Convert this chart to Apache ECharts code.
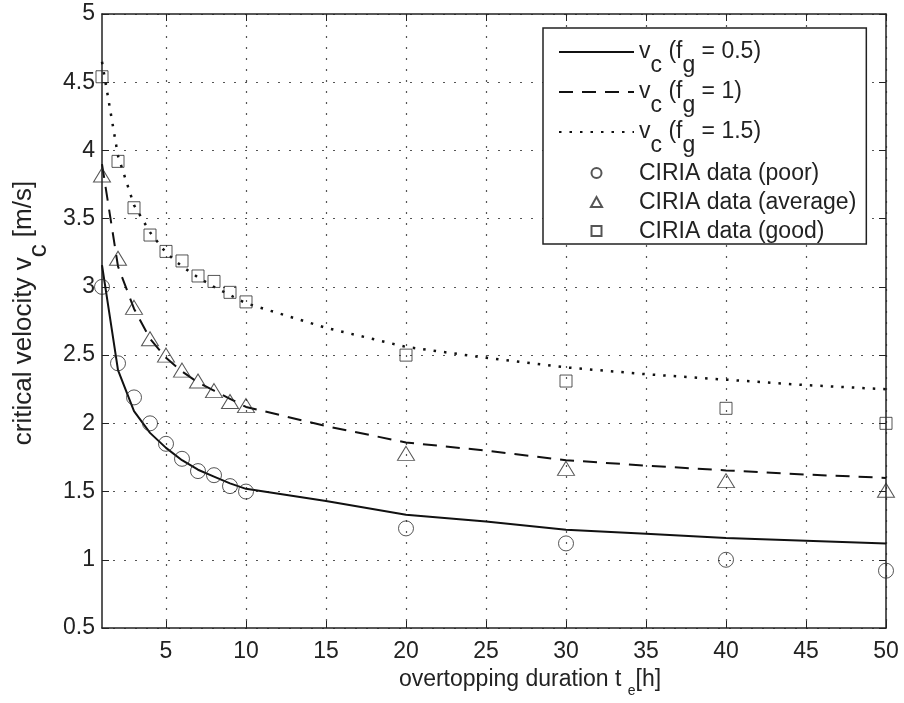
<!DOCTYPE html>
<html>
<head>
<meta charset="utf-8">
<script src="https://cdn.jsdelivr.net/npm/echarts@6/dist/echarts.min.js"></script>
<style>
  html, body { margin: 0; padding: 0; background: #fff; }
  #chart { width: 904px; height: 703px; }
</style>
</head>
<body>
<div id="chart"></div>
<script>
// CIRIA measured points
const hours = [1, 2, 3, 4, 5, 6, 7, 8, 9, 10, 20, 30, 40, 50];
const poor = [3.0, 2.44, 2.19, 2.0, 1.85, 1.74, 1.65, 1.62, 1.54, 1.5, 1.23, 1.12, 1.0, 0.92];
const average = [3.82, 3.21, 2.85, 2.62, 2.5, 2.39, 2.31, 2.24, 2.16, 2.13, 1.78, 1.67, 1.58, 1.51];
const good = [4.54, 3.92, 3.58, 3.38, 3.26, 3.19, 3.08, 3.04, 2.96, 2.89, 2.5, 2.31, 2.11, 2.0];

// critical velocity curves
const curveHours = [1, 2, 3, 4, 5, 6, 7, 8, 9, 10, 15, 20, 25, 30, 35, 40, 45, 50];
const vcFg05 = [3.16, 2.39, 2.09, 1.93, 1.82, 1.73, 1.66, 1.61, 1.56, 1.52, 1.43, 1.33, 1.28, 1.22, 1.19, 1.16, 1.14, 1.12];
const vcFg1 = [3.9, 3.15, 2.84, 2.62, 2.48, 2.38, 2.30, 2.24, 2.18, 2.12, 1.98, 1.86, 1.80, 1.73, 1.69, 1.655, 1.625, 1.60];
const vcFg15 = [4.65, 3.96, 3.6, 3.4, 3.25, 3.15, 3.07, 3.0, 2.94, 2.88, 2.70, 2.56, 2.48, 2.41, 2.36, 2.32, 2.28, 2.25];

const xTicks = [5, 10, 15, 20, 25, 30, 35, 40, 45, 50];

const legendLabels = {
  'vc05': '{m|v}{s|c}{m| (f}{s|g}{m| = 0.5)}',
  'vc1': '{m|v}{s|c}{m| (f}{s|g}{m| = 1)}',
  'vc15': '{m|v}{s|c}{m| (f}{s|g}{m| = 1.5)}',
  'poor': '{p|CIRIA data (poor)}',
  'average': '{p|CIRIA data (average)}',
  'good': '{p|CIRIA data (good)}'
};

const font = 'Liberation Sans, Arial, Helvetica, sans-serif';
const ink = '#222';

const subRich = {
  m: { fontSize: 23, fontFamily: font, color: ink, lineHeight: 24, verticalAlign: 'top' },
  s: { fontSize: 23, fontFamily: font, color: ink, lineHeight: 24, verticalAlign: 'top', padding: [14, 0, 0, 0] },
  p: { fontSize: 23, fontFamily: font, color: ink, lineHeight: 26, padding: [2, 0, 1, 0] },
  e: { fontSize: 14, fontFamily: font, color: ink, lineHeight: 16, verticalAlign: 'top', padding: [16, 0, 0, 0] },
  ym: { fontSize: 26, fontFamily: font, color: ink, lineHeight: 28, verticalAlign: 'top' },
  ys: { fontSize: 26, fontFamily: font, color: ink, lineHeight: 28, verticalAlign: 'top', padding: [15, 0, 0, 0] }
};

function pairs(xs, ys) {
  return xs.map((x, i) => [x, ys[i]]);
}

const chart = echarts.init(document.getElementById('chart'));

const markerStyle = {
  color: 'rgba(0,0,0,0)',
  borderColor: '#2a2a2a',
  borderWidth: 1
};
const noFill = { color: 'rgba(0,0,0,0)', borderWidth: 0 };

let option = {
  animation: false,
  backgroundColor: '#fff',
  textStyle: { fontFamily: font },
  grid: { left: 102, right: 18, top: 14, bottom: 73 },
  legend: {
    orient: 'vertical',
    left: 543,
    top: 28,
    padding: [12, 10, 0, 15],
    itemWidth: 75,
    itemHeight: 10,
    itemGap: 3,
    borderColor: ink,
    borderWidth: 1.5,
    backgroundColor: '#fff',
    data: [
      { name: 'vc05' },
      { name: 'vc1' },
      { name: 'vc15' },
      { name: 'poor', icon: 'circle' },
      { name: 'average', icon: 'path://M5,0 L10,9 L0,9 Z' },
      { name: 'good', icon: 'path://M0,0 L9,0 L9,9 L0,9 Z' }
    ],
    formatter: name => legendLabels[name],
    textStyle: { fontSize: 23, fontFamily: font, color: ink, rich: subRich }
  },
  xAxis: [{
    type: 'value',
    min: 1,
    max: 50,
    name: '{m|overtopping duration t }{e|e}{m|[h]}',
    nameLocation: 'middle',
    nameGap: 40,
    nameTextStyle: { rich: subRich, padding: [0, 0, 0, 72] },
    axisLine: { lineStyle: { color: ink, width: 1.5 } },
    axisTick: { inside: true, length: 7, customValues: xTicks, lineStyle: { color: ink } },
    axisLabel: { customValues: xTicks, fontSize: 23, color: ink, margin: 12, fontFamily: font },
    splitLine: { show: true, lineStyle: { color: '#555', type: [2, 9], width: 1.2 } }
  }, {
    type: 'value',
    position: 'top',
    min: 1,
    max: 50,
    axisLine: { show: true, onZero: false, lineStyle: { color: ink, width: 1.5 } },
    axisTick: { show: true, inside: true, length: 7, customValues: xTicks, lineStyle: { color: ink } },
    axisLabel: { show: false },
    splitLine: { show: false }
  }],
  yAxis: [{
    type: 'value',
    min: 0.5,
    max: 5,
    interval: 0.5,
    name: '{ym|critical velocity v}{ys|c}{ym| [m/s]}',
    nameLocation: 'middle',
    nameRotate: 90,
    nameGap: 54,
    nameTextStyle: { rich: subRich, padding: [0, 0, 0, 16] },
    axisLine: { show: true, lineStyle: { color: ink, width: 1.5 } },
    axisTick: { show: true, inside: true, length: 7, lineStyle: { color: ink } },
    axisLabel: { fontSize: 23, color: ink, margin: 7, fontFamily: font },
    splitLine: { show: true, lineStyle: { color: '#555', type: [2, 9], width: 1.2 } }
  }, {
    type: 'value',
    position: 'right',
    min: 0.5,
    max: 5,
    interval: 0.5,
    axisLine: { show: true, onZero: false, lineStyle: { color: ink, width: 1.5 } },
    axisTick: { show: true, inside: true, length: 7, lineStyle: { color: ink } },
    axisLabel: { show: false },
    splitLine: { show: false }
  }],
  series: [{
    name: 'vc05',
    type: 'line',
    data: pairs(curveHours, vcFg05),
    symbol: 'none',
    lineStyle: { color: '#111', width: 2, type: 'solid' },
    itemStyle: noFill,
    z: 3
  }, {
    name: 'vc1',
    type: 'line',
    data: pairs(curveHours, vcFg1),
    symbol: 'none',
    lineStyle: { color: '#111', width: 2, type: [14, 9] },
    itemStyle: noFill,
    z: 3
  }, {
    name: 'vc15',
    type: 'line',
    data: pairs(curveHours, vcFg15),
    symbol: 'none',
    lineStyle: { color: '#111', width: 2.5, type: [2.5, 8] },
    itemStyle: noFill,
    z: 3
  }, {
    name: 'poor',
    type: 'scatter',
    data: pairs(hours, poor),
    symbol: 'circle',
    symbolSize: 15,
    itemStyle: markerStyle,
    z: 4
  }, {
    name: 'average',
    type: 'scatter',
    data: pairs(hours, average),
    symbol: 'triangle',
    symbolSize: [17, 14],
    itemStyle: markerStyle,
    z: 4
  }, {
    name: 'good',
    type: 'scatter',
    data: pairs(hours, good),
    symbol: 'rect',
    symbolSize: 12,
    itemStyle: markerStyle,
    z: 4
  }]
};

chart.setOption(option);
</script>
</body>
</html>
